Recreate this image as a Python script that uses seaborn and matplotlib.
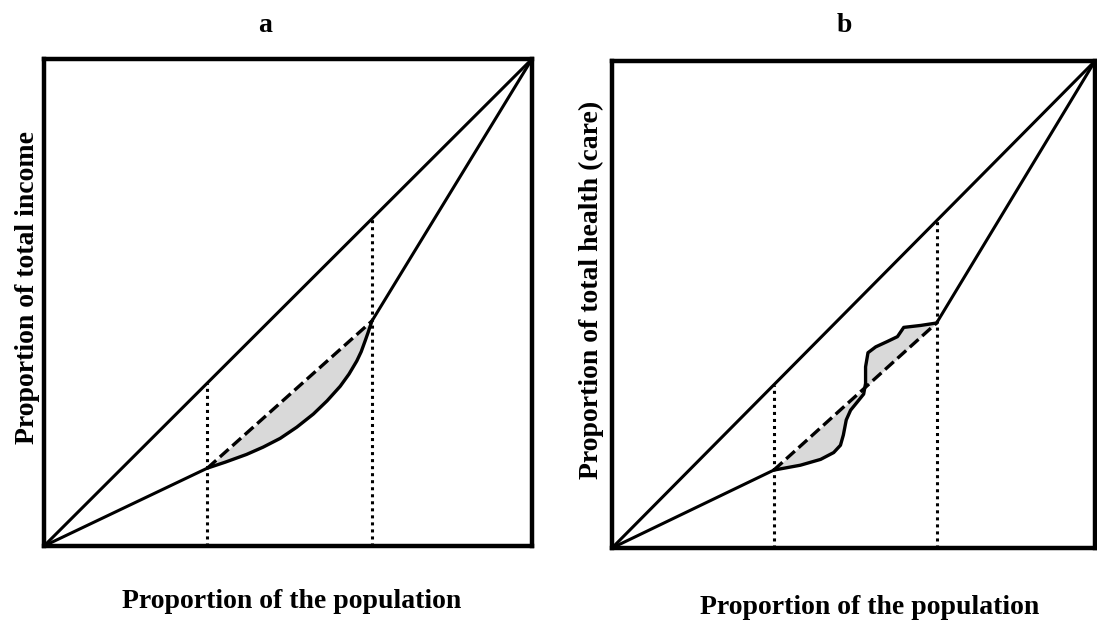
import numpy as np
import pandas as pd
import matplotlib
matplotlib.use("Agg")
import matplotlib.pyplot as plt
import seaborn as sns

# ---- data ----
equality_x = [0.0, 1.0]
equality_y = [0.0, 1.0]

lorenz_x = [0.0, 0.335, 0.672, 1.0]
lorenz_y = [0.0, 0.160, 0.462, 1.0]

cut_x = [0.335, 0.672]
cut_top = [0.335, 0.672]

# panel a: smooth convex curve between the two cut points
curve_a_x = [0.335, 0.371, 0.415, 0.449, 0.484, 0.518, 0.552, 0.580, 0.607,
             0.625, 0.641, 0.650, 0.658, 0.664, 0.672]
curve_a_y = [0.160, 0.172, 0.188, 0.203, 0.221, 0.244, 0.271, 0.298, 0.328,
             0.353, 0.380, 0.399, 0.421, 0.438, 0.462]

# panel b: wavy curve crossing the chord
curve_b_x = [0.335, 0.390, 0.432, 0.459, 0.473, 0.479, 0.485, 0.494, 0.508, 0.521,
             0.525, 0.525, 0.530, 0.546, 0.570, 0.591, 0.604, 0.639, 0.672]
curve_b_y = [0.160, 0.170, 0.182, 0.196, 0.211, 0.232, 0.263, 0.283, 0.300, 0.316,
             0.338, 0.372, 0.401, 0.413, 0.424, 0.434, 0.453, 0.457, 0.462]

titles = ["a", "b"]
xlabels = ["Proportion of the population", "Proportion of the population"]
ylabels = ["Proportion of total income", "Proportion of total health (care)"]

sns.set_theme(style="white")
plt.rcParams["font.family"] = ["Liberation Serif", "DejaVu Serif"]
plt.rcParams["text.color"] = "black"
plt.rcParams["axes.labelcolor"] = "black"

fig = plt.figure(figsize=(10.97, 6.25), dpi=100)
ax_a = fig.add_axes([44 / 1097, 79 / 625, 488 / 1097, 487 / 625])
ax_b = fig.add_axes([612 / 1097, 77 / 625, 483 / 1097, 487 / 625])

curves = [(curve_a_x, curve_a_y), (curve_b_x, curve_b_y)]
title_pos = [(0.453, 1.069), (0.482, 1.073)]
xlab_pos = [(0.508, -0.089), (0.534, -0.097)]
ylab_pos = [(-0.008, 0.53), (-0.017, 0.53)]

for ax, title, xl, yl, (cx, cy), tp, xp, yp in zip(
        [ax_a, ax_b], titles, xlabels, ylabels, curves, title_pos, xlab_pos, ylab_pos):
    # shaded area between chord and curve
    chord_y = np.interp(cx, cut_x, [lorenz_y[1], lorenz_y[2]])
    ax.fill_between(cx, cy, chord_y, color="#d9d9d9", linewidth=0, zorder=1)

    sns.lineplot(x=equality_x, y=equality_y, ax=ax, color="black", lw=2.2,
                 sort=False, estimator=None, zorder=3)
    sns.lineplot(x=lorenz_x[:2], y=lorenz_y[:2], ax=ax, color="black", lw=2.2,
                 sort=False, estimator=None, zorder=3)
    sns.lineplot(x=lorenz_x[2:], y=lorenz_y[2:], ax=ax, color="black", lw=2.2,
                 sort=False, estimator=None, zorder=3)
    # dashed chord
    sns.lineplot(x=lorenz_x[1:3], y=lorenz_y[1:3], ax=ax, color="black", lw=2.4,
                 sort=False, estimator=None, zorder=4, linestyle=(0, (3.5, 1.5)))
    # curve
    sns.lineplot(x=cx, y=cy, ax=ax, color="black", lw=2.4,
                 sort=False, estimator=None, zorder=4)
    # dotted verticals
    for xv, yt in zip(cut_x, cut_top):
        sns.lineplot(x=[xv, xv], y=[0, yt], ax=ax, color="black", lw=2.2,
                     sort=False, estimator=None, zorder=2, linestyle=(0, (1, 1.3)))

    ax.set_xlim(0, 1)
    ax.set_ylim(0, 1)
    ax.set_xticks([])
    ax.set_yticks([])
    for s in ax.spines.values():
        s.set_visible(True)
        s.set_color("black")
        s.set_linewidth(3.2)
    ax.text(tp[0], tp[1], title, transform=ax.transAxes, ha="center", va="center",
            fontsize=20, fontweight="bold", color="black")
    ax.set_xlabel(xl, fontsize=20, fontweight="bold")
    ax.set_ylabel(yl, fontsize=20, fontweight="bold")
    ax.xaxis.set_label_coords(*xp)
    ax.yaxis.set_label_coords(*yp)

fig.savefig("out.png", dpi=100)
